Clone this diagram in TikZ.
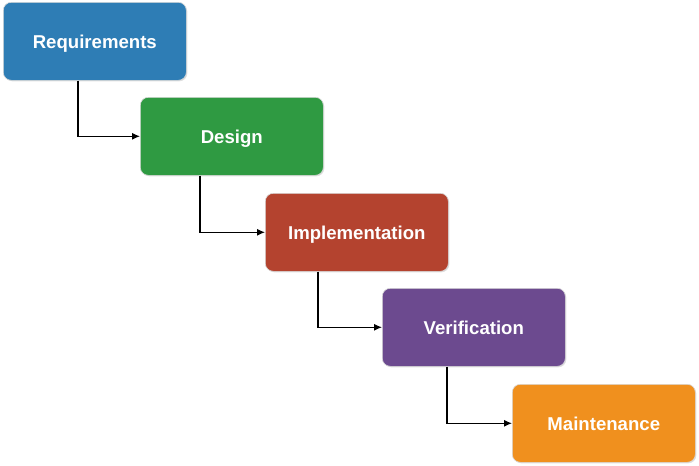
\documentclass[tikz,border=0pt]{standalone}
\usepackage{fontspec}
\setmainfont{Liberation Sans}
\usetikzlibrary{arrows.meta,shadows}
\definecolor{cblue}{HTML}{2E7DB5}
\definecolor{cgreen}{HTML}{2F9A42}
\definecolor{cred}{HTML}{B4432F}
\definecolor{cpurple}{HTML}{6C4A8F}
\definecolor{corange}{HTML}{F0901E}
\tikzset{
  phase/.style={rounded corners=8pt, minimum width=183pt, minimum height=78pt,
    text=white, font=\fontsize{18.6}{22}\selectfont\bfseries, inner sep=0pt,
    text height=13.4pt, text depth=0pt,
    draw=black!15, line width=0.6pt,
    drop shadow={shadow xshift=1pt, shadow yshift=-1pt, opacity=0.25}},
  flow/.style={draw=black, line width=1.2pt, -{Latex[length=8pt,width=7pt]}}
}
\begin{document}
\begin{tikzpicture}[x=1pt,y=1pt]
\useasboundingbox (0,0) rectangle (699,-466);
\node[phase, fill=cblue, anchor=north west] (req) at (3,-2) {Requirements};
\node[phase, fill=cgreen, anchor=north west] (des) at (140,-97) {Design};
\node[phase, fill=cred, anchor=north west] (imp) at (265,-193) {Implementation};
\node[phase, fill=cpurple, anchor=north west] (ver) at (382,-288) {Verification};
\node[phase, fill=corange, anchor=north west] (mai) at (512,-384) {Maintenance};
\draw[flow] ([xshift=75pt]req.south west) |- (des.west);
\draw[flow] ([xshift=60pt]des.south west) |- (imp.west);
\draw[flow] ([xshift=53pt]imp.south west) |- (ver.west);
\draw[flow] ([xshift=65pt]ver.south west) |- (mai.west);
\end{tikzpicture}
\end{document}
